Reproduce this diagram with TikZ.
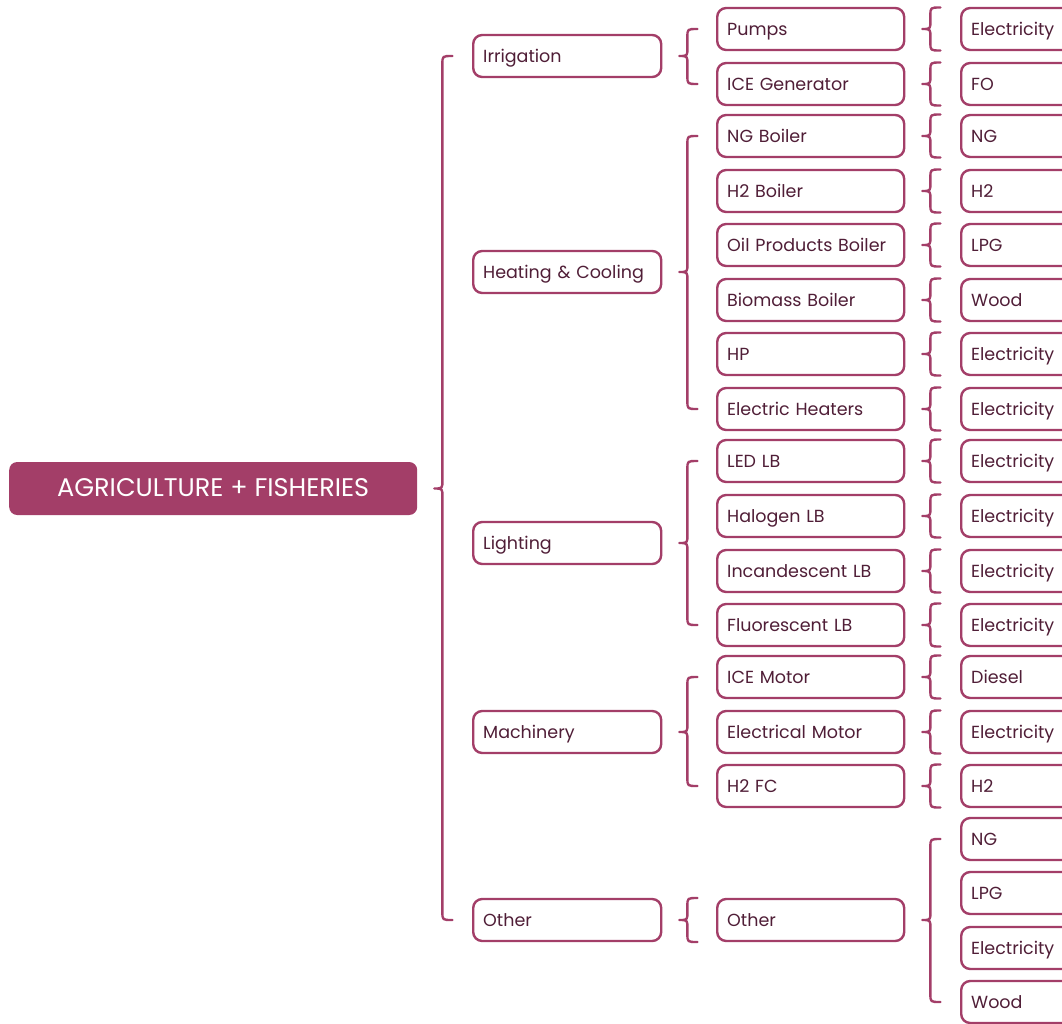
\documentclass[tikz,border=0pt]{standalone}
\usepackage{fontspec}
\setmainfont{Poppins}
\usetikzlibrary{calc}
\definecolor{brd}{RGB}{163,62,104}
\definecolor{ink}{RGB}{80,30,55}
\tikzset{
  box/.style={draw=brd, line width=2.4pt, rounded corners=9pt, fill=white, text=ink,
    anchor=west, minimum height=42pt, inner xsep=10pt, inner ysep=0pt, align=left,
    text height=14pt, text depth=2pt,
    font=\fontsize{17.5}{19}\selectfont},
  lvone/.style={box, text width=168pt},
  lvtwo/.style={box, text width=167pt},
  lvthree/.style={box, text width=150pt},
  rootbox/.style={fill=brd, draw=none, rounded corners=8pt, text=white, anchor=west,
    minimum width=408pt, minimum height=53pt, text height=17pt, text depth=2pt,
    font=\fontsize{25.5}{28}\selectfont},
  bracket/.style={draw=brd, line width=2.4pt, line cap=round, line join=round}
}
% curly bracket from a parent node to the span of its children
% #1 parent, #2 first child, #3 last child, #4 extra reach beyond the child centres
\newcommand\curly[4]{%
  \draw[bracket] let \p1=(#1.east), \p2=(#2.west), \p3=(#3.west) in
    (\x1+35pt,\y2+#4) .. controls (\x1+25pt,\y2+#4) .. (\x1+25pt,\y2+#4-8pt)
    -- (\x1+25pt,\y1+8pt) .. controls (\x1+25pt,\y1) .. (\x1+17pt,\y1)
    .. controls (\x1+25pt,\y1) .. (\x1+25pt,\y1-8pt)
    -- (\x1+25pt,\y3-#4+8pt) .. controls (\x1+25pt,\y3-#4) .. (\x1+35pt,\y3-#4);
}
\begin{document}
\begin{tikzpicture}[x=1pt,y=-1pt]
\useasboundingbox (0,0) rectangle (1062,1023);
\clip (0,0) rectangle (1062,1023);

% root
\node[rootbox] (root) at (9,488.5) {AGRICULTURE + FISHERIES};

% end uses
\node[lvone] (irr)   at (472,56)  {Irrigation};
\node[lvone] (heat)  at (472,272) {Heating \& Cooling};
\node[lvone] (light) at (472,543) {Lighting};
\node[lvone] (mach)  at (472,732) {Machinery};
\node[lvone] (oth)   at (472,920) {Other};

% technologies
\node[lvtwo] (p1)  at (716,29)  {Pumps};
\node[lvtwo] (p2)  at (716,84)  {ICE Generator};
\node[lvtwo] (p3)  at (716,136) {NG Boiler};
\node[lvtwo] (p4)  at (716,191) {H2 Boiler};
\node[lvtwo] (p5)  at (716,245) {Oil Products Boiler};
\node[lvtwo] (p6)  at (716,300) {Biomass Boiler};
\node[lvtwo] (p7)  at (716,354) {HP};
\node[lvtwo] (p8)  at (716,409) {Electric Heaters};
\node[lvtwo] (p9)  at (716,461) {LED LB};
\node[lvtwo] (p10) at (716,516) {Halogen LB};
\node[lvtwo] (p11) at (716,571) {Incandescent LB};
\node[lvtwo] (p12) at (716,625) {Fluorescent LB};
\node[lvtwo] (p13) at (716,677) {ICE Motor};
\node[lvtwo] (p14) at (716,732) {Electrical Motor};
\node[lvtwo] (p15) at (716,786) {H2 FC};
\node[lvtwo] (p16) at (716,920) {Other};

% fuels
\node[lvthree] (f1)  at (960,29)   {Electricity};
\node[lvthree] (f2)  at (960,84)   {FO};
\node[lvthree] (f3)  at (960,136)  {NG};
\node[lvthree] (f4)  at (960,191)  {H2};
\node[lvthree] (f5)  at (960,245)  {LPG};
\node[lvthree] (f6)  at (960,300)  {Wood};
\node[lvthree] (f7)  at (960,354)  {Electricity};
\node[lvthree] (f8)  at (960,409)  {Electricity};
\node[lvthree] (f9)  at (960,461)  {Electricity};
\node[lvthree] (f10) at (960,516)  {Electricity};
\node[lvthree] (f11) at (960,571)  {Electricity};
\node[lvthree] (f12) at (960,625)  {Electricity};
\node[lvthree] (f13) at (960,677)  {Diesel};
\node[lvthree] (f14) at (960,732)  {Electricity};
\node[lvthree] (f15) at (960,786)  {H2};
\node[lvthree] (f16) at (960,839)  {NG};
\node[lvthree] (f17) at (960,893)  {LPG};
\node[lvthree] (f18) at (960,948)  {Electricity};
\node[lvthree] (f19) at (960,1002) {Wood};

% brackets
\curly{root}{irr}{oth}{0pt}
\curly{irr}{p1}{p2}{0pt}
\curly{heat}{p3}{p8}{0pt}
\curly{light}{p9}{p12}{0pt}
\curly{mach}{p13}{p15}{0pt}
\curly{oth}{p16}{p16}{22pt}
\foreach \i in {1,...,15}{\curly{p\i}{f\i}{f\i}{21.5pt}}
\curly{p16}{f16}{f19}{0pt}
\end{tikzpicture}
\end{document}
